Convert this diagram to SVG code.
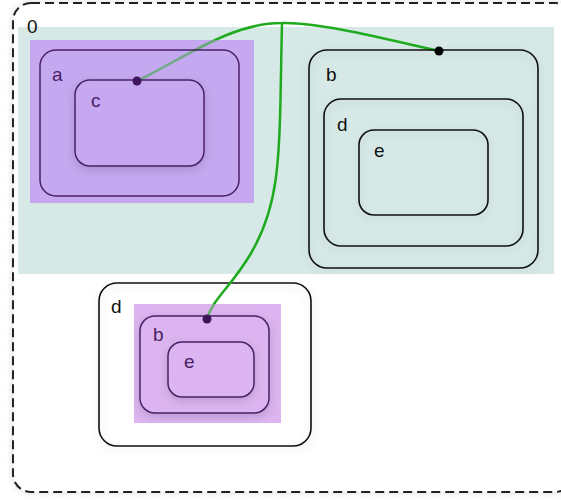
<svg xmlns="http://www.w3.org/2000/svg" width="561" height="500" viewBox="0 0 561 500">
<defs>
<filter id="sh" x="-20%" y="-20%" width="140%" height="140%">
<feDropShadow dx="0" dy="3" stdDeviation="4" flood-color="#000" flood-opacity="0.15"/>
</filter>
<filter id="sh2" x="-10%" y="-10%" width="120%" height="120%">
<feDropShadow dx="0" dy="0" stdDeviation="3" flood-color="#000" flood-opacity="0.15"/>
</filter>
</defs>
<style>
text{font-family:"Liberation Sans",Arial,sans-serif;font-size:19px;}
.blk{fill:none;stroke:#111;stroke-width:1.6;}
.pur{stroke:#4a2166;stroke-width:1.5;}
.pa{fill:#c5a8f0;}
.pb{fill:#dcb4ef;}
.ov{fill-opacity:0.4;}
.ptxt{fill:#4a2166;}
.btxt{fill:#111;}
.edge{fill:none;stroke:#20aa20;stroke-width:2.5;}
</style>
<rect width="561" height="500" fill="#fff"/>
<g id="node-0">
<rect x="13" y="3" width="560" height="489" rx="18" fill="#fff" stroke="#222" stroke-width="2" stroke-dasharray="9,5" filter="url(#sh2)"/>
<rect x="18" y="27" width="536" height="247" fill="#d6e9e6"/>
<text x="27" y="33" class="btxt">0</text>
</g>
<g id="node-0-d">
<rect x="99" y="283" width="212" height="163" rx="18" fill="#fff" class="blk" filter="url(#sh)"/>
<text x="111" y="313" class="btxt">d</text>
</g>
<g id="region-a-base"><rect x="30" y="40" width="224" height="163" class="pa"/></g>
<g id="region-db-base"><rect x="134" y="304" width="147" height="119" class="pb"/></g>
<g id="connectors">
<path class="edge" d="M137,81 C185,58 230,23 282,23 C320,22 390,40 439,51"/>
<path class="edge" d="M282,23 C279,150 283,200 250,255 C230,288 212,300 207,319"/>
</g>
<g id="node-0-a">
<rect x="30" y="40" width="224" height="163" class="pa ov"/>
<rect x="40" y="50" width="199" height="146" rx="16" class="pa pur" fill-opacity="0.2"/>
<text x="52" y="81" class="ptxt">a</text>
</g>
<g id="node-0-a-c">
<rect x="75" y="80" width="129" height="86" rx="15" class="pa pur" filter="url(#sh)"/>
<text x="91" y="107" class="ptxt">c</text>
<circle cx="137" cy="81" r="4.5" fill="#3e1659"/>
</g>
<g id="node-0-b">
<rect x="309" y="50" width="229" height="218" rx="18" fill="#d6e9e6" class="blk" filter="url(#sh)"/>
<text x="326" y="81" class="btxt">b</text>
<circle cx="439" cy="51" r="4.5" fill="#000"/>
</g>
<g id="node-0-b-d">
<rect x="324" y="99" width="199" height="147" rx="17" fill="#d6e9e6" class="blk" filter="url(#sh)"/>
<text x="337" y="131" class="btxt">d</text>
</g>
<g id="node-0-b-d-e">
<rect x="359" y="130" width="129" height="85" rx="15" fill="#d6e9e6" class="blk" filter="url(#sh)"/>
<text x="374" y="157" class="btxt">e</text>
</g>
<g id="node-0-d-b">
<rect x="134" y="304" width="147" height="119" class="pb ov"/>
<rect x="140" y="316" width="129" height="97" rx="15" class="pb pur" filter="url(#sh)"/>
<text x="153" y="341" class="ptxt">b</text>
<circle cx="207" cy="319" r="4.5" fill="#3e1659"/>
</g>
<g id="node-0-d-b-e">
<rect x="168" y="342" width="86" height="55" rx="14" class="pb pur" filter="url(#sh)"/>
<text x="184" y="368" class="ptxt">e</text>
</g>
</svg>
